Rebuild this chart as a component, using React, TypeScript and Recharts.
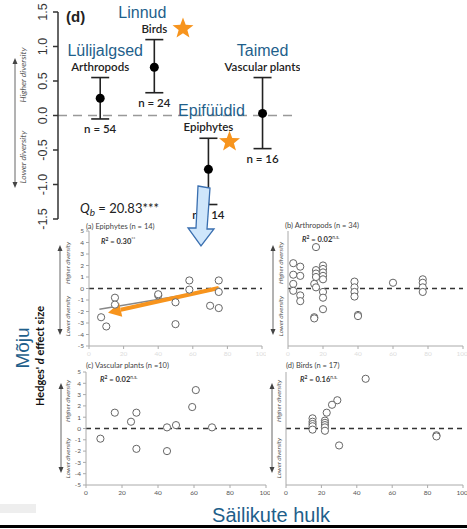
import React from 'react';
import { ScatterChart, Scatter, XAxis, YAxis, ErrorBar, ReferenceLine } from 'recharts';

// top panel (d): overall effect per taxon
const groups = ['Arthropods', 'Birds', 'Epiphytes', 'Vascular plants'];
const groupsEt = ['Lülijalgsed', 'Linnud', 'Epifüüdid', 'Taimed'];
const groupN = [54, 24, 14, 16];
const groupMean = [0.25, 0.7, -0.78, 0.03];
const groupLow = [-0.05, 0.33, -1.29, -0.48];
const groupHigh = [0.55, 1.1, -0.33, 0.55];
const topTicks = [-1.5, -1, -0.5, 0, 0.5, 1, 1.5];
const starX = [2.53, 3.39];
const starY = [1.26, -0.38];

// bottom panels: effect size vs. number of remnant trees
const epiX = [7, 10, 15, 15, 40, 40, 50, 50, 58, 58, 70, 75, 75, 75];
const epiY = [-2.5, -3.3, -0.8, -1.4, -0.6, -0.5, -1.2, -3.1, 0.7, -0.1, -1.5, 0.7, -0.3, -1.7];
const arthX = [3, 3, 3, 3, 7, 7, 7, 7, 16, 16, 16, 16, 15, 16, 15, 15, 20, 20, 20, 20, 20, 20, 20, 20, 38, 38, 38, 38, 40, 40, 60, 77, 77, 77, 77];
const arthY = [2.2, 1.2, 0.4, -0.2, 1.9, 1.1, -0.6, -1.1, 3.6, 1.6, 1.3, 1.0, 0.4, 0.1, -2.5, -2.6, 2.0, 1.7, 1.4, 1.1, 0.8, -0.3, -0.8, -1.8, 0.6, 0.1, -0.3, -0.7, -2.3, -2.4, 0.5, 0.8, 0.5, 0.1, -0.3];
const vascX = [8, 16, 25, 28, 28, 45, 45, 50, 59, 61, 70];
const vascY = [-0.9, 1.4, 0.6, 1.4, -1.8, 0.1, -2.0, 0.3, 1.9, 3.4, 0.1];
const birdX = [45, 29, 26, 23, 22, 22, 22, 22, 22, 15, 15, 15, 15, 15, 30, 85, 85];
const birdY = [4.4, 2.5, 2.1, 1.4, 0.7, 0.5, 0.3, 0.1, -0.2, 0.9, 0.6, 0.4, 0.2, -0.1, -1.5, -0.6, -0.7];
const epiFitX = [6, 76];
const epiFitY = [-1.8, -0.05];
const arrowX = [75, 11];
const arrowY = [0.05, -2.1];
const xTicks = [0, 20, 40, 60, 80, 100];
const yTicks = [-5, -4, -3, -2, -1, 0, 1, 2, 3, 4, 5];

const BLUE = '#1f5f8b';
const ORANGE = '#f7941d';
const etShift: Record<string, number> = { Arthropods: 5, Birds: -12, Epiphytes: 3, 'Vascular plants': 0 };

const zip = (xs: number[], ys: number[]) => xs.map((x, i) => ({ x, y: ys[i] }));

const topData = groups.map((g, i) => ({
  x: i + 1,
  y: groupMean[i],
  err: [groupMean[i] - groupLow[i], groupHigh[i] - groupMean[i]],
  name: g,
}));
const headData = groups.map((g, i) => ({ x: i + 1, y: groupHigh[i], name: g, et: groupsEt[i] }));
const footData = groups.map((g, i) => ({ x: i + 1, y: groupLow[i], n: groupN[i] }));
const starData = zip(starX, starY);

const starPath = (cx: number, cy: number, ro: number, ri: number) => {
  const pts: string[] = [];
  for (let k = 0; k < 10; k++) {
    const r = k % 2 === 0 ? ro : ri;
    const a = -Math.PI / 2 + (k * Math.PI) / 5;
    pts.push(`${cx + r * Math.cos(a)},${cy + r * Math.sin(a)}`);
  }
  return pts.join(' ');
};

const RotTick = (props: any) => {
  const { x, y, payload } = props;
  const v = payload.value;
  const s = v === 0 ? '0.0' : Number.isInteger(v) ? v.toFixed(1) : String(v);
  return (
    <text transform={`translate(${x - 4},${y}) rotate(-90)`} textAnchor="middle" fontSize={12.5}
      fontFamily="Liberation Sans, Arial" fill="#333">{s}</text>
  );
};

const GroupHead = (props: any) => {
  const { cx, cy, payload } = props;
  return (
    <g>
      <text x={cx + (etShift[payload.name] || 0)} y={cy - 22} textAnchor="middle" fontSize={16}
        fontFamily="Liberation Sans, Arial" fill={BLUE}>{payload.et}</text>
      <text x={cx} y={cy - 7} textAnchor="middle" fontSize={11.5} fontWeight={600}
        fontFamily="Lato, sans-serif" fill="#222">{payload.name}</text>
    </g>
  );
};

const GroupFoot = (props: any) => {
  const { cx, cy, payload } = props;
  return (
    <text x={cx} y={cy + 14} textAnchor="middle" fontSize={11.5} fontWeight={600}
      fontFamily="Lato, sans-serif" fill="#222">{`n = ${payload.n}`}</text>
  );
};

const OpenDot = (props: any) => (
  <circle cx={props.cx} cy={props.cy} r={3.6} fill="#fff" stroke="#666" strokeWidth={1} />
);

const OrangeArrow = (props: any) => {
  const { x1, y1, x2, y2 } = props;
  const a = Math.atan2(y2 - y1, x2 - x1);
  const L = 13, W = 7;
  const bx = x2 - L * Math.cos(a), by = y2 - L * Math.sin(a);
  const p1 = `${bx + W * Math.sin(a)},${by - W * Math.cos(a)}`;
  const p2 = `${bx - W * Math.sin(a)},${by + W * Math.cos(a)}`;
  return (
    <g>
      <line x1={x1} y1={y1} x2={bx} y2={by} stroke={ORANGE} strokeWidth={4} />
      <polygon points={`${x2},${y2} ${p1} ${p2}`} fill={ORANGE} />
    </g>
  );
};

const YW = 16, MT = 4, XH = 14;

function Panel(props: {
  left: number; top: number; w: number; h: number; data: { x: number; y: number }[];
  yLabels: boolean; xLabelFill: string; children?: React.ReactNode;
}) {
  const { left, top, w, h, data, yLabels, xLabelFill, children } = props;
  return (
    <div style={{ position: 'absolute', left: left - YW, top: top - MT }}>
      <ScatterChart width={w + YW + 4} height={h + MT + XH} margin={{ top: MT, right: 4, bottom: 0, left: 0 }}>
        <XAxis type="number" dataKey="x" domain={[0, 100]} ticks={xTicks} height={XH}
          axisLine={{ stroke: '#aaa' }} tickLine={{ stroke: '#aaa' }} tickSize={3}
          tick={{ fontSize: 6.5, fill: xLabelFill, fontFamily: 'Lato, sans-serif' }} />
        <YAxis type="number" dataKey="y" domain={[-5, 5]} ticks={yTicks} width={YW} interval={0}
          axisLine={{ stroke: '#aaa' }} tickLine={{ stroke: '#aaa' }} tickSize={3}
          tick={yLabels ? { fontSize: 6.5, fill: '#555', fontFamily: 'Lato, sans-serif' } : false} />
        <ReferenceLine y={0} stroke="#333" strokeDasharray="5 4" strokeWidth={1.6} />
        {children}
        <Scatter data={data} shape={<OpenDot />} isAnimationActive={false} />
      </ScatterChart>
    </div>
  );
}

const DivArrow = ({ x, y1, y2, textX, hi, lo, fs }: any) => (
  <g>
    <line x1={x} y1={y1 + 4} x2={x} y2={y2 - 4} stroke="#666" strokeWidth={1} />
    <polygon points={`${x},${y1} ${x - 2.5},${y1 + 6} ${x + 2.5},${y1 + 6}`} fill="#444" />
    <polygon points={`${x},${y2} ${x - 2.5},${y2 - 6} ${x + 2.5},${y2 - 6}`} fill="#444" />
    <text transform={`translate(${textX},${hi}) rotate(-90)`} textAnchor="middle" fontSize={fs}
      fontStyle="italic" fontFamily="Lato, sans-serif" fill="#555">Higher diversity</text>
    <text transform={`translate(${textX},${lo}) rotate(-90)`} textAnchor="middle" fontSize={fs}
      fontStyle="italic" fontFamily="Lato, sans-serif" fill="#555">Lower diversity</text>
  </g>
);

const R2 = ({ x, y, v, sig }: any) => (
  <text x={x} y={y} fontSize={7.5} fontWeight={700} fontFamily="Lato, sans-serif" fill="#333">
    <tspan fontStyle="italic">R</tspan>
    <tspan dy={-3} fontSize={5}>2</tspan>
    <tspan dy={3}>{` = ${v}`}</tspan>
    <tspan dy={-3} fontSize={5} fontWeight={400}>{sig}</tspan>
  </text>
);

const Title = ({ x, y, t }: any) => (
  <text x={x} y={y} fontSize={7.5} fontFamily="Lato, sans-serif" fill="#444">{t}</text>
);

export default function App() {
  return (
    <div style={{ position: 'absolute', left: 0, top: 0, width: 467, height: 529, background: '#fff', overflow: 'hidden' }}>
      <div style={{ position: 'absolute', left: 0, top: 0 }}>
        <ScatterChart width={300} height={230} margin={{ top: 12, right: 5, bottom: 11, left: 0 }}>
          <XAxis type="number" dataKey="x" domain={[0.22, 4.6]} hide />
          <YAxis type="number" dataKey="y" domain={[-1.5, 1.5]} ticks={topTicks} width={58} interval={0}
            tick={<RotTick />} axisLine={{ stroke: '#333', strokeWidth: 1.5 }} tickLine={{ stroke: '#333', strokeWidth: 1.5 }} tickSize={5} />
          <ReferenceLine y={0} stroke="#999" strokeDasharray="9 6" strokeWidth={1.5} />
          <Scatter data={headData} shape={<GroupHead />} isAnimationActive={false} />
          <Scatter data={footData} shape={<GroupFoot />} isAnimationActive={false} />
          <Scatter data={topData} fill="#000" isAnimationActive={false}
            shape={(p: any) => <circle cx={p.cx} cy={p.cy} r={4.5} fill="#000" />}>
            <ErrorBar dataKey="err" direction="y" width={9} stroke="#222" strokeWidth={1.6} />
          </Scatter>
          <Scatter data={starData} isAnimationActive={false}
            shape={(p: any) => <polygon points={starPath(p.cx, p.cy, 11, 4.6)} fill={ORANGE} />} />
        </ScatterChart>
      </div>

      <Panel left={89} top={231} w={173} h={115} data={zip(epiX, epiY)} yLabels xLabelFill="#ddd">
        <ReferenceLine segment={[{ x: epiFitX[0], y: epiFitY[0] }, { x: epiFitX[1], y: epiFitY[1] }]}
          stroke="#888" strokeWidth={1.5} />
        <ReferenceLine segment={[{ x: arrowX[0], y: arrowY[0] }, { x: arrowX[1], y: arrowY[1] }]}
          shape={<OrangeArrow />} />
      </Panel>
      <Panel left={288} top={231} w={175} h={115} data={zip(arthX, arthY)} yLabels={false} xLabelFill="#ddd" />
      <Panel left={86} top={372} w={180} h={113} data={zip(vascX, vascY)} yLabels xLabelFill="#555" />
      <Panel left={286} top={372} w={177} h={113} data={zip(birdX, birdY)} yLabels={false} xLabelFill="#555" />

      <svg width={467} height={529} style={{ position: 'absolute', left: 0, top: 0, pointerEvents: 'none' }}>
        <text x={66} y={22} fontSize={15} fontWeight={700} fontFamily="Liberation Sans, Arial" fill="#222">(d)</text>
        <DivArrow x={15} y1={58} y2={188} textX={26} hi={75} lo={157} fs={8.5} />
        <text x={80} y={213} fontSize={13} fontFamily="Lato, sans-serif" fill="#222">
          <tspan fontStyle="italic">Q</tspan>
          <tspan dy={3} fontSize={10} fontStyle="italic">b</tspan>
          <tspan dy={-3}>{'  = 20.83***'}</tspan>
        </text>
        <polygon points="198,186 210,188 207,229 214,229 201,246 188,228 196,228"
          fill="#cfe6fb" stroke="#3a6fb0" strokeWidth={1.3} />

        <Title x={86} y={229} t="(a) Epiphytes (n = 14)" />
        <Title x={285} y={228} t="(b) Arthropods (n = 34)" />
        <Title x={86} y={368} t="(c) Vascular plants (n =10)" />
        <Title x={286} y={368} t="(d) Birds (n = 17)" />
        <R2 x={101} y={244} v="0.30" sig="**" />
        <R2 x={302} y={242} v="0.02" sig="n.s." />
        <R2 x={100} y={382} v="0.02" sig="n.s." />
        <R2 x={300} y={382} v="0.16" sig="n.s." />

        <DivArrow x={60} y1={245} y2={335} textX={70} hi={263} lo={316} fs={6.5} />
        <DivArrow x={273} y1={245} y2={335} textX={283} hi={263} lo={316} fs={6.5} />
        <DivArrow x={61} y1={383} y2={473} textX={70} hi={401} lo={458} fs={6.5} />
        <DivArrow x={272} y1={383} y2={473} textX={281} hi={401} lo={458} fs={6.5} />

        <text transform="translate(44,356) rotate(-90)" textAnchor="middle" fontSize={11} fontWeight={700}
          fontFamily="Lato, sans-serif" fill="#111">
          Hedges' <tspan fontStyle="italic">d</tspan> effect size
        </text>
        <text transform="translate(29,348) rotate(-90)" textAnchor="middle" fontSize={19}
          fontFamily="Liberation Sans, Arial" fill={BLUE}>Mõju</text>
        <text x={271} y={522} textAnchor="middle" fontSize={20} fontFamily="Liberation Sans, Arial" fill={BLUE}>Säilikute hulk</text>
        <rect x={0} y={504} width={36} height={9} fill="#eee" />
        <rect x={0} y={525} width={467} height={3} fill="#000" />
      </svg>
    </div>
  );
}
